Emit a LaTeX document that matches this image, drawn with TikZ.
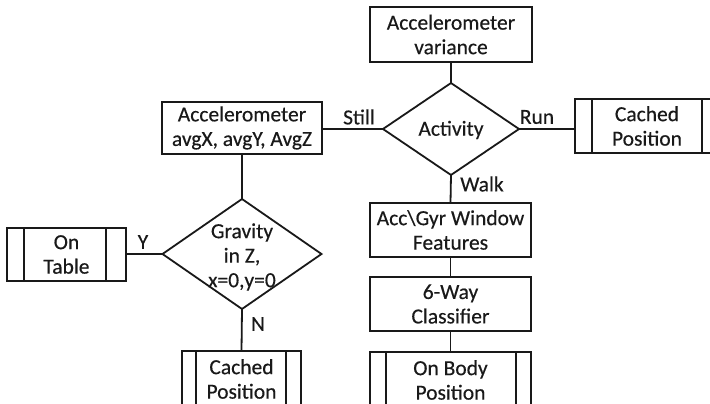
\documentclass[tikz,border=0pt]{standalone}
\usepackage{fontspec}
\setmainfont{Carlito}[FakeBold=0.35]
\usetikzlibrary{shapes.geometric,calc}
\begin{document}
\begin{tikzpicture}[x=1pt,y=-1pt,
  every node/.style={font=\fontsize{21.5}{24.5}\selectfont, text=black!90},
  box/.style={draw=black!90, line width=1.8pt, rectangle, inner sep=0pt, outer sep=0pt, align=center},
  dia/.style={draw=black!90, line width=1.8pt, diamond, inner sep=0pt, outer sep=0pt},
  conn/.style={draw=black!90, line width=1.8pt},
  side/.style={draw=black!90, line width=1.8pt},
  lbl/.style={inner sep=0pt}]
\useasboundingbox (0,0) rectangle (710,404);
\clip (0,0) rectangle (710,404);
\fill[white] (0,0) rectangle (710,404);
% boxes
\node[box, minimum width=162pt, minimum height=55pt] (var) at (451,34.5) {Accelerometer\\variance};
\node[box, minimum width=160pt, minimum height=52pt] (acc) at (242,128) {Accelerometer\\avgX, avgY, AvgZ};
\node[box, minimum width=144pt, minimum height=54pt] (cachedR) at (647,126) {Cached\\Position};
\node[box, minimum width=119pt, minimum height=53pt] (table) at (66.5,254.5) {On\\Table};
\node[box, minimum width=119pt, minimum height=56pt] (cachedL) at (241.5,379) {Cached\\Position};
\node[box, minimum width=161pt, minimum height=54pt] (accgyr) at (450.5,230) {Acc\textbackslash Gyr Window\\Features};
\node[box, minimum width=161pt, minimum height=54pt] (six) at (450.5,304) {6-Way\\Classifier};
\node[box, minimum width=161pt, minimum height=56pt] (body) at (450.5,380) {On Body\\Position};
% predefined-process side lines
\draw[side] ([xshift=17pt]cachedR.north west) -- ([xshift=17pt]cachedR.south west);
\draw[side] ([xshift=-17pt]cachedR.north east) -- ([xshift=-17pt]cachedR.south east);
\draw[side] ([xshift=17pt]table.north west) -- ([xshift=17pt]table.south west);
\draw[side] ([xshift=-20pt]table.north east) -- ([xshift=-20pt]table.south east);
\draw[side] ([xshift=14pt]cachedL.north west) -- ([xshift=14pt]cachedL.south west);
\draw[side] ([xshift=-15pt]cachedL.north east) -- ([xshift=-15pt]cachedL.south east);
\draw[side] ([xshift=16pt]body.north west) -- ([xshift=16pt]body.south west);
\draw[side] ([xshift=-15pt]body.north east) -- ([xshift=-15pt]body.south east);
% diamonds
\node[dia, minimum width=136pt, minimum height=92pt] (act) at (451,129) {};
\node (actT) at (451,130) {Activity};
\node[dia, minimum width=159pt, minimum height=110pt] (grav) at (242,254) {};
\node[align=center] (gravT) at (242,257) {Gravity\\in Z,\\x=0,y=0};
% connectors
\draw[conn] (var.south) -- (act.north);
\draw[conn] (act.west) -- (act.west -| acc.east);
\draw[conn] (act.east) -- (act.east -| cachedR.west);
\draw[conn] (act.south) -- (accgyr.north);
\draw[conn] (accgyr.south) -- (six.north);
\draw[conn] (six.south) -- (body.north);
\draw[conn] (acc.south) -- (grav.north);
\draw[conn] (grav.west) -- (grav.west -| table.east);
\draw[conn] (grav.south) -- (cachedL.north);
% labels
\node[lbl] (lStill) at (359,117) {Still};
\node[lbl] (lRun) at (537,117) {Run};
\node[lbl] (lWalk) at (482,184) {Walk};
\node[lbl] (lY) at (143,242) {Y};
\node[lbl] (lN) at (258,324) {N};
\end{tikzpicture}
\end{document}
